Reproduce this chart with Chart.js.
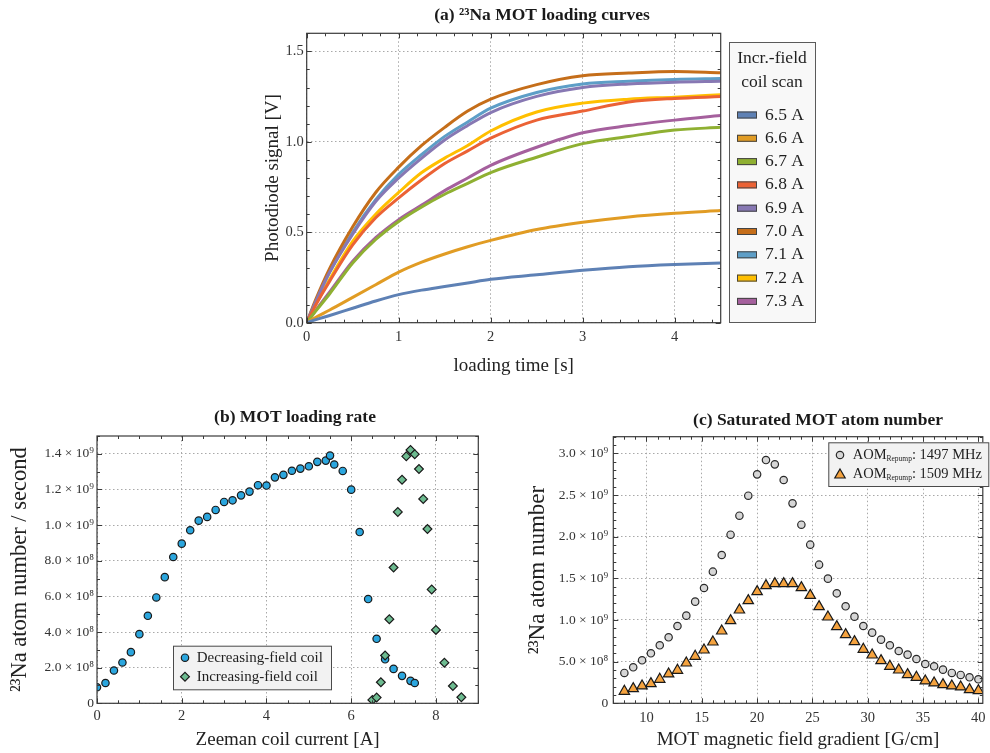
<!DOCTYPE html>
<html>
<head>
<meta charset="utf-8">
<script src="https://cdn.jsdelivr.net/npm/chart.js@4.4.1/dist/chart.umd.min.js"></script>
<style>
html,body{margin:0;padding:0;background:#fff;}
#wrap{position:relative;width:990px;height:753px;overflow:hidden;background:#fff;}
.panel{position:absolute;}
</style>
</head>
<body>
<div id="wrap">
  <div class="panel" style="left:240px;top:0px;"><canvas id="chartA" width="600" height="390"></canvas></div>
  <div class="panel" style="left:0px;top:395px;"><canvas id="chartB" width="490" height="358"></canvas></div>
  <div class="panel" style="left:490px;top:395px;"><canvas id="chartC" width="500" height="358"></canvas></div>
</div>
<script>
var SERIF = "'Liberation Serif','DejaVu Serif',serif";

// ---- (a) loading curves, signal in V vs loading time in s
var loadTime = [0, 0.1, 0.25, 0.5, 0.75, 1, 1.25, 1.5, 1.75, 2, 2.5, 3, 3.5, 4, 4.5];
var coilLabels = ["6.5 A", "6.6 A", "6.7 A", "6.8 A", "6.9 A", "7.0 A", "7.1 A", "7.2 A", "7.3 A"];
var coilColors = ["#5e81b5", "#e19c24", "#8fb032", "#eb6235", "#8778b3", "#c56e1a", "#5d9ec7", "#ffbf00", "#a5609d"];
var sig65 = [0, 0.017, 0.04, 0.08, 0.12, 0.155, 0.18, 0.20, 0.22, 0.24, 0.265, 0.29, 0.31, 0.322, 0.33];
var sig66 = [0, 0.03, 0.07, 0.14, 0.21, 0.28, 0.335, 0.38, 0.42, 0.455, 0.515, 0.555, 0.585, 0.605, 0.62];
var sig67 = [0, 0.065, 0.16, 0.33, 0.46, 0.56, 0.64, 0.71, 0.77, 0.83, 0.915, 0.99, 1.03, 1.065, 1.08];
var sig68 = [0, 0.10, 0.23, 0.43, 0.58, 0.69, 0.79, 0.88, 0.95, 1.02, 1.12, 1.17, 1.22, 1.24, 1.25];
var sig69 = [0, 0.12, 0.28, 0.49, 0.67, 0.80, 0.91, 1.01, 1.09, 1.162, 1.251, 1.30, 1.32, 1.33, 1.335];
var sig70 = [0, 0.13, 0.30, 0.53, 0.72, 0.86, 0.98, 1.08, 1.17, 1.236, 1.316, 1.365, 1.38, 1.389, 1.382];
var sig71 = [0, 0.12, 0.28, 0.50, 0.68, 0.82, 0.93, 1.03, 1.11, 1.186, 1.273, 1.32, 1.335, 1.345, 1.35];
var sig72 = [0, 0.10, 0.24, 0.45, 0.60, 0.72, 0.83, 0.91, 0.98, 1.06, 1.165, 1.214, 1.236, 1.247, 1.26];
var sig73 = [0, 0.07, 0.17, 0.34, 0.47, 0.57, 0.65, 0.73, 0.80, 0.87, 0.97, 1.05, 1.09, 1.12, 1.145];
var coilSignals = [sig65, sig66, sig67, sig68, sig69, sig70, sig71, sig72, sig73];
var aTicksX = [0, 1, 2, 3, 4];
var aLabelsX = ["0", "1", "2", "3", "4"];
var aTicksY = [0, 0.5, 1, 1.5];
var aLabelsY = ["0.0", "0.5", "1.0", "1.5"];

// ---- (b) loading rate (units of 1e9 atoms / s) vs Zeeman coil current
var decrCurrent = [0, 0.2, 0.4, 0.6, 0.8, 1.0, 1.2, 1.4, 1.6, 1.8, 2.0, 2.2, 2.4, 2.6, 2.8, 3.0, 3.2, 3.4, 3.6, 3.8,
                   4.0, 4.2, 4.4, 4.6, 4.8, 5.0, 5.2, 5.4, 5.5, 5.6, 5.8, 6.0, 6.2, 6.4, 6.6, 6.8, 7.0, 7.2, 7.4, 7.5];
var decrRate = [0.090, 0.114, 0.184, 0.229, 0.287, 0.388, 0.491, 0.594, 0.708, 0.821, 0.896, 0.971, 1.025, 1.046, 1.085,
                1.130, 1.139, 1.167, 1.188, 1.224, 1.222, 1.268, 1.282, 1.305, 1.317, 1.330, 1.355, 1.362, 1.390, 1.340,
                1.304, 1.199, 0.961, 0.585, 0.362, 0.247, 0.193, 0.154, 0.126, 0.114];
var incrCurrent = [6.5, 6.6, 6.7, 6.8, 6.9, 7.0, 7.1, 7.2, 7.3, 7.4, 7.5, 7.6, 7.7, 7.8, 7.9, 8.0, 8.2, 8.4, 8.6];
var incrRate = [0.019, 0.032, 0.118, 0.268, 0.472, 0.762, 1.074, 1.255, 1.386, 1.422, 1.398, 1.315, 1.147, 0.978,
                0.639, 0.412, 0.228, 0.097, 0.034];
var bTicksX = [0, 2, 4, 6, 8];
var bLabelsX = ["0", "2", "4", "6", "8"];
var bTicksY = [0, 0.2, 0.4, 0.6, 0.8, 1.0, 1.2, 1.4];
var bLabelsY = ["0", "2.0 \u00d7 10\u2078", "4.0 \u00d7 10\u2078", "6.0 \u00d7 10\u2078", "8.0 \u00d7 10\u2078",
                "1.0 \u00d7 10\u2079", "1.2 \u00d7 10\u2079", "1.4 \u00d7 10\u2079"];

// ---- (c) saturated atom number (units of 1e9) vs MOT gradient
var gradient = [8.0, 8.8, 9.6, 10.4, 11.2, 12.0, 12.8, 13.6, 14.4, 15.2, 16.0, 16.8, 17.6, 18.4, 19.2, 20.0, 20.8,
                21.6, 22.4, 23.2, 24.0, 24.8, 25.6, 26.4, 27.2, 28.0, 28.8, 29.6, 30.4, 31.2, 32.0, 32.8, 33.6,
                34.4, 35.2, 36.0, 36.8, 37.6, 38.4, 39.2, 40.0];
var atoms1497 = [0.364, 0.432, 0.516, 0.600, 0.696, 0.792, 0.928, 1.052, 1.220, 1.384, 1.580, 1.780, 2.024, 2.252,
                 2.492, 2.748, 2.920, 2.868, 2.680, 2.400, 2.144, 1.904, 1.664, 1.496, 1.320, 1.164, 1.040, 0.928,
                 0.848, 0.764, 0.696, 0.628, 0.584, 0.532, 0.472, 0.444, 0.404, 0.364, 0.340, 0.312, 0.288];
var atoms1509 = [0.144, 0.176, 0.208, 0.236, 0.288, 0.352, 0.396, 0.484, 0.564, 0.640, 0.736, 0.868, 0.992, 1.120,
                 1.232, 1.340, 1.412, 1.436, 1.436, 1.436, 1.388, 1.296, 1.160, 1.036, 0.920, 0.824, 0.740, 0.648,
                 0.580, 0.512, 0.444, 0.400, 0.344, 0.312, 0.268, 0.244, 0.224, 0.208, 0.196, 0.164, 0.152];
var aomLabels = ["AOM_Repump: 1497 MHz", "AOM_Repump: 1509 MHz"];
var cTicksX = [10, 15, 20, 25, 30, 35, 40];
var cLabelsX = ["10", "15", "20", "25", "30", "35", "40"];
var cTicksY = [0, 0.5, 1.0, 1.5, 2.0, 2.5, 3.0];
var cLabelsY = ["0", "5.0 \u00d7 10\u2078", "1.0 \u00d7 10\u2079", "1.5 \u00d7 10\u2079", "2.0 \u00d7 10\u2079",
                "2.5 \u00d7 10\u2079", "3.0 \u00d7 10\u2079"];

function pairs(xs, ys) {
    return xs.map(function (x, i) { return { x: x, y: ys[i] }; });
}

// frame with inward major/minor ticks on all four sides
var framePlugin = {
    id: "frame",
    afterDatasetsDraw: function (chart, args, o) {
        var a = chart.chartArea, ctx = chart.ctx;
        ctx.save();
        ctx.strokeStyle = "#3a3a3a";
        ctx.lineWidth = 1;
        ["x", "y"].forEach(function (id) {
            var sc = chart.scales[id], t = o[id];
            var start = Math.ceil(sc.min / t.minor - 1e-6) * t.minor;
            for (var v = start; v <= sc.max + 1e-6; v += t.minor) {
                var r = v / t.major;
                var len = Math.abs(r - Math.round(r)) < 1e-4 ? 5 : 3;
                var p = Math.round(sc.getPixelForValue(v)) + 0.5;
                ctx.beginPath();
                if (id === "x") {
                    ctx.moveTo(p, a.bottom); ctx.lineTo(p, a.bottom - len);
                    ctx.moveTo(p, a.top); ctx.lineTo(p, a.top + len);
                } else {
                    ctx.moveTo(a.left, p); ctx.lineTo(a.left + len, p);
                    ctx.moveTo(a.right, p); ctx.lineTo(a.right - len, p);
                }
                ctx.stroke();
            }
        });
        ctx.lineWidth = 1.2;
        ctx.strokeRect(a.left, a.top, a.right - a.left, a.bottom - a.top);
        ctx.restore();
    }
};

var panelTitlePlugin = {
    id: "panelTitle",
    afterDraw: function (chart, args, o) {
        var ctx = chart.ctx;
        ctx.save();
        ctx.font = "bold 17.5px " + SERIF;
        ctx.fillStyle = "#1a1a1a";
        ctx.textAlign = "center";
        ctx.textBaseline = "middle";
        ctx.fillText(o.text, o.x, o.y);
        ctx.restore();
    }
};

function drawMarker(ctx, style, x, y, r) {
    ctx.beginPath();
    if (style === "rectRot") {
        ctx.moveTo(x - r, y); ctx.lineTo(x, y - r); ctx.lineTo(x + r, y); ctx.lineTo(x, y + r);
        ctx.closePath();
    } else if (style === "triangle") {
        ctx.moveTo(x, y - r);
        ctx.lineTo(x + 0.866 * r, y + 0.5 * r);
        ctx.lineTo(x - 0.866 * r, y + 0.5 * r);
        ctx.closePath();
    } else {
        ctx.arc(x, y, r, 0, Math.PI * 2);
    }
    ctx.fill();
    ctx.stroke();
}

// legend box drawn from the datasets
var boxLegendPlugin = {
    id: "boxLegend",
    afterDraw: function (chart, args, o) {
        var ctx = chart.ctx;
        ctx.save();
        ctx.fillStyle = o.fill;
        ctx.strokeStyle = o.stroke;
        ctx.lineWidth = 1;
        ctx.fillRect(o.box[0], o.box[1], o.box[2], o.box[3]);
        ctx.strokeRect(o.box[0] + 0.5, o.box[1] + 0.5, o.box[2], o.box[3]);
        ctx.fillStyle = "#1f1f1f";
        ctx.textBaseline = "middle";
        ctx.font = o.fontSize + "px " + SERIF;
        if (o.titleLines) {
            ctx.textAlign = "center";
            o.titleLines.forEach(function (line, k) { ctx.fillText(line, o.titleX, o.titleY[k]); });
        }
        ctx.textAlign = "left";
        chart.data.datasets.forEach(function (ds, i) {
            var y = o.rowY + i * o.rowStep;
            if (o.swatch) {
                ctx.fillStyle = ds.borderColor;
                ctx.fillRect(o.swatchX, y - 3.5, 20, 7);
                ctx.strokeStyle = "#444";
                ctx.strokeRect(o.swatchX + 0.5, y - 3.5 + 0.5, 19, 6);
            } else {
                ctx.fillStyle = ds.backgroundColor;
                ctx.strokeStyle = ds.borderColor;
                ctx.lineWidth = ds.borderWidth;
                drawMarker(ctx, ds.pointStyle, o.markerX, y + (ds.pointStyle === "triangle" ? 1 : 0), ds.pointRadius);
            }
            ctx.fillStyle = "#1f1f1f";
            var x = o.textX;
            var parts = ds.label.split(/_(\w+)/);
            parts.forEach(function (p, k) {
                if (k % 2 === 1) {
                    ctx.font = "7.5px " + SERIF;
                    ctx.fillText(p, x, y + 4);
                } else {
                    ctx.font = o.fontSize + "px " + SERIF;
                    ctx.fillText(p, x, y);
                }
                x += ctx.measureText(p).width;
            });
        });
        ctx.restore();
    }
};

function makeAxis(o) {
    return {
        type: "linear",
        position: o.position,
        min: o.min,
        max: o.max,
        afterBuildTicks: function (s) { s.ticks = o.ticks.map(function (v) { return { value: v }; }); },
        afterFit: function (s) {
            if (s.isHorizontal()) { s.height = o.size; s.paddingLeft = 0; s.paddingRight = 0; }
            else { s.width = o.size; s.paddingTop = 0; s.paddingBottom = 0; }
        },
        ticks: {
            autoSkip: false,
            maxRotation: 0,
            padding: o.tickPad,
            color: "#333",
            font: { family: SERIF, size: o.tickSize },
            callback: function (v) { var k = o.ticks.indexOf(v); return k < 0 ? "" : o.labels[k]; }
        },
        grid: { color: "#a9a9a9", lineWidth: 1, drawTicks: false },
        border: { display: false, dash: [1.5, 2.5] },
        title: { display: true, text: o.title, color: "#222", font: { family: SERIF, size: o.titleSize }, padding: o.titlePad }
    };
}

var baseOptions = {
    responsive: false,
    animation: false,
    events: []
};

// ---------- (a)
new Chart(document.getElementById("chartA"), {
    type: "line",
    data: {
        datasets: coilLabels.map(function (lbl, i) {
            return {
                label: lbl,
                data: pairs(loadTime, coilSignals[i]),
                borderColor: coilColors[i],
                backgroundColor: coilColors[i],
                borderWidth: 3,
                pointRadius: 0,
                fill: false,
                cubicInterpolationMode: "monotone"
            };
        })
    },
    options: Object.assign({}, baseOptions, {
        layout: { padding: { left: 6.7, right: 119.3, top: 33.3, bottom: 0 } },
        scales: {
            x: makeAxis({ position: "bottom", min: 0, max: 4.5, ticks: aTicksX, labels: aLabelsX, size: 67.3, tickPad: 6,
                          tickSize: 14.5, title: "loading time [s]", titleSize: 19, titlePad: { top: 0, bottom: 12.6 } }),
            y: makeAxis({ position: "left", min: 0, max: 1.6, ticks: aTicksY, labels: aLabelsY, size: 60, tickPad: 3,
                          tickSize: 14.5, title: "Photodiode signal [V]", titleSize: 19, titlePad: { top: 14.9, bottom: 0 } })
        },
        plugins: {
            legend: { display: false },
            tooltip: { enabled: false },
            frame: { x: { major: 1, minor: 0.2 }, y: { major: 0.5, minor: 0.1 } },
            panelTitle: { text: "(a) \u00b2\u00b3Na MOT loading curves", x: 302, y: 15 },
            boxLegend: { box: [489, 42, 86, 280], fill: "#f8f8f8", stroke: "#5a5a5a", fontSize: 17.5,
                         titleLines: ["Incr.-field", "coil scan"], titleX: 532, titleY: [58, 82],
                         swatch: true, swatchX: 497, textX: 525, rowY: 115, rowStep: 23.3 }
        }
    }),
    plugins: [framePlugin, panelTitlePlugin, boxLegendPlugin]
});

// ---------- (b)
new Chart(document.getElementById("chartB"), {
    type: "scatter",
    data: {
        datasets: [
            { label: "Decreasing-field coil", data: pairs(decrCurrent, decrRate), pointStyle: "circle", pointRadius: 3.7,
              backgroundColor: "#2ba6de", borderColor: "#1a1a1a", borderWidth: 1.2, order: 1 },
            { label: "Increasing-field coil", data: pairs(incrCurrent, incrRate), pointStyle: "rectRot", pointRadius: 4.4,
              backgroundColor: "#6dbb90", borderColor: "#1a1a1a", borderWidth: 1.2, order: 0 }
        ]
    },
    options: Object.assign({}, baseOptions, {
        layout: { padding: { left: 7, right: 11.7, top: 41, bottom: 0 } },
        scales: {
            x: makeAxis({ position: "bottom", min: 0, max: 9, ticks: bTicksX, labels: bLabelsX, size: 49.7, tickPad: 4,
                          tickSize: 14.5, title: "Zeeman coil current [A]", titleSize: 19, titlePad: { top: 0, bottom: 1.6 } }),
            y: makeAxis({ position: "left", min: 0, max: 1.5, ticks: bTicksY, labels: bLabelsY, size: 90, tickPad: 3,
                          tickSize: 13.5, title: "\u00b2\u00b3Na atom number / second", titleSize: 22.5, titlePad: { top: 0, bottom: 0 } })
        },
        plugins: {
            legend: { display: false },
            tooltip: { enabled: false },
            frame: { x: { major: 2, minor: 0.5 }, y: { major: 0.2, minor: 0.1 } },
            panelTitle: { text: "(b) MOT loading rate", x: 295, y: 22 },
            boxLegend: { box: [173, 250.7, 158, 43.6], fill: "#f2f2f2", stroke: "#4a4a4a", fontSize: 15,
                         markerX: 185, textX: 196.7, rowY: 262.7, rowStep: 19 }
        }
    }),
    plugins: [framePlugin, panelTitlePlugin, boxLegendPlugin]
});

// ---------- (c)
new Chart(document.getElementById("chartC"), {
    type: "scatter",
    data: {
        datasets: [
            { label: aomLabels[0], data: pairs(gradient, atoms1497), pointStyle: "circle", pointRadius: 3.7,
              backgroundColor: "#d6d6d6", borderColor: "#2a2a2a", borderWidth: 1.2 },
            { label: aomLabels[1], data: pairs(gradient, atoms1509), pointStyle: "triangle", pointRadius: 6,
              backgroundColor: "#f5a33f", borderColor: "#1a1a1a", borderWidth: 1.2 }
        ]
    },
    options: Object.assign({}, baseOptions, {
        layout: { padding: { left: 23.3, right: 1.5, top: 41.7, bottom: 0 } },
        scales: {
            x: makeAxis({ position: "bottom", min: 7, max: 40.4, ticks: cTicksX, labels: cLabelsX, size: 49.7, tickPad: 6,
                          tickSize: 14.5, title: "MOT magnetic field gradient [G/cm]", titleSize: 19, titlePad: { top: 0, bottom: 1.6 } }),
            y: makeAxis({ position: "left", min: 0, max: 3.2, ticks: cTicksY, labels: cLabelsY, size: 100, tickPad: 5,
                          tickSize: 13.5, title: "\u00b2\u00b3Na atom number", titleSize: 23, titlePad: { top: 11, bottom: 0 } })
        },
        plugins: {
            legend: { display: false },
            tooltip: { enabled: false },
            frame: { x: { major: 5, minor: 1 }, y: { major: 0.5, minor: 0.1 } },
            panelTitle: { text: "(c) Saturated MOT atom number", x: 328, y: 25 },
            boxLegend: { box: [338.3, 47.3, 160, 43.7], fill: "#f2f2f2", stroke: "#4a4a4a", fontSize: 14.5,
                         markerX: 350, textX: 362.7, rowY: 60, rowStep: 19 }
        }
    }),
    plugins: [framePlugin, panelTitlePlugin, boxLegendPlugin]
});
</script>
</body>
</html>
